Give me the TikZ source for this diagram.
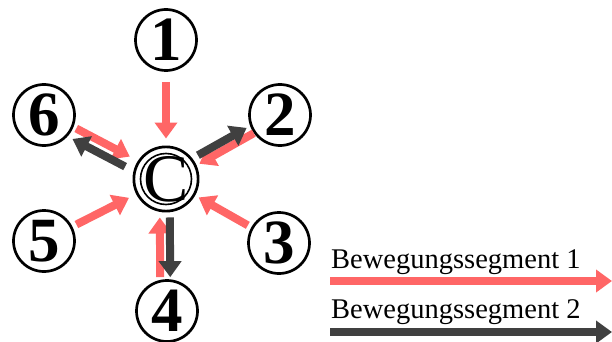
\documentclass[tikz,border=0pt]{standalone}
\usepackage{fontspec}
\setmainfont{Liberation Serif}
\usetikzlibrary{arrows.meta}
\definecolor{segred}{HTML}{FF6666}
\definecolor{seggray}{HTML}{404040}

\begin{document}
\begin{tikzpicture}
    [x=1pt, y=-1pt,
    roundnode/.style={circle, draw=black, line width=2.7pt, minimum size=61pt, inner sep=0pt, font=\fontsize{63}{63}\selectfont\bfseries},
    centernode/.style={circle, draw=black, line width=2.7pt, minimum size=61pt, inner sep=0pt, font=\fontsize{68}{68}\selectfont},
    redarrow/.style={draw=segred, line width=8pt, -{Triangle[length=16pt, width=22pt]}},
    grayarrow/.style={draw=seggray, line width=8pt, -{Triangle[length=16pt, width=22pt]}},
    legendtext/.style={anchor=base west, inner sep=0pt, font=\fontsize{28.5}{30}\selectfont}]

    \useasboundingbox (0,0) rectangle (612,342);

    %Nodes
    \node[centernode](C) at (166,179){C};
    \draw[line width=1.6pt] (C) circle (25.5pt);
    \node[roundnode](one) at (166,40){1};
    \node[roundnode](two) at (280,115){2};
    \node[roundnode](three) at (279,243){3};
    \node[roundnode](four) at (167,311){4};
    \node[roundnode](five) at (44,241){5};
    \node[roundnode](six) at (44,115){6};

    \node[legendtext](legA) at (331,268){Bewegungssegment 1};
    \node[legendtext](legB) at (331,318){Bewegungssegment 2};
    \coordinate (legAstart) at (330,281);
    \coordinate (legAend) at (612,281);
    \coordinate (legBstart) at (330,332);
    \coordinate (legBend) at (612,332);

    %Lines
    \draw[redarrow, shorten <=10pt, shorten >=7pt] (one) -- (C);
    \draw[redarrow, shorten <=0pt, shorten >=3pt, transform canvas={shift={(1.5pt,-2.6pt)}}] (two) -- (C);
    \draw[redarrow, shorten <=4pt, shorten >=4pt] (three) -- (C);
    \draw[redarrow, shorten <=2pt, shorten >=5pt, transform canvas={shift={(-6.5pt,0pt)}}] (four) -- (C);
    \draw[redarrow, shorten <=4.5pt, shorten >=8pt] (five) -- (C);
    \draw[redarrow, shorten <=3pt, shorten >=9pt, transform canvas={shift={(1.4pt,2.7pt)}}] (six) -- (C);

    \draw[grayarrow, shorten <=6pt, shorten >=3.5pt, transform canvas={shift={(-2.5pt,4.4pt)}}] (C) -- (two);
    \draw[grayarrow, shorten <=5pt, shorten >=2pt, transform canvas={shift={(3.5pt,0pt)}}] (C) -- (four);
    \draw[grayarrow, shorten <=8.5pt, shorten >=4.5pt, transform canvas={shift={(-3.7pt,-7.1pt)}}] (C) -- (six);

    \draw[redarrow] (legAstart) -- (legAend);
    \draw[grayarrow] (legBstart) -- (legBend);
\end{tikzpicture}
\end{document}
